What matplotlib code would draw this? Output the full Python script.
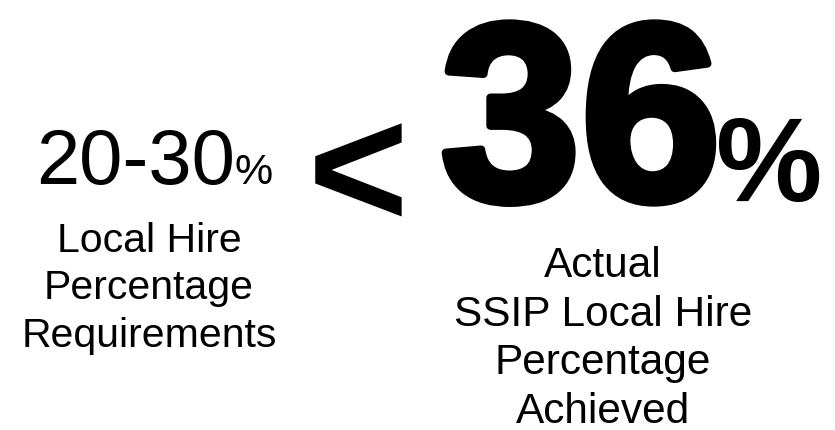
import matplotlib.pyplot as plt
import matplotlib.patheffects as pe

# values shown in the graphic
required_range = ['20', '30']
actual_pct = 36
left_label = ['Local Hire', 'Percentage', 'Requirements']
right_label = ['Actual', 'SSIP Local Hire', 'Percentage', 'Achieved']

W, H = 835, 431
sans = ['Liberation Sans', 'DejaVu Sans']

fig = plt.figure(figsize=(W / 100, H / 100), dpi=100)
ax = fig.add_axes([0, 0, 1, 1])
ax.set_xlim(0, W)
ax.set_ylim(H, 0)
ax.axis('off')

# left: requirement range
ax.text(36, 184, '-'.join(required_range), family=sans, fontsize=56,
        ha='left', va='baseline')
ax.text(234, 184, '%', family=sans, fontsize=31, ha='left', va='baseline')
for i, line in enumerate(left_label):
    ax.text(149, 252 + i * 47.5, line, family=sans, fontsize=29.5,
            ha='center', va='baseline')

# comparison sign
ax.text(358, 228, '<', family=sans, fontsize=124, fontweight='bold',
        ha='center', va='baseline')

# right: actual value
thick = [pe.withStroke(linewidth=6, foreground='black')]
ax.text(440, 201, str(actual_pct), family=sans, fontsize=182,
        fontweight='bold', ha='left', va='baseline', path_effects=thick)
ax.text(716, 201, '%', family=sans, fontsize=86, fontweight='bold',
        ha='left', va='baseline')
for i, line in enumerate(right_label):
    ax.text(603, 277 + i * 48.7, line, family=sans, fontsize=30.5,
            ha='center', va='baseline')

fig.savefig('out.png', dpi=100)
